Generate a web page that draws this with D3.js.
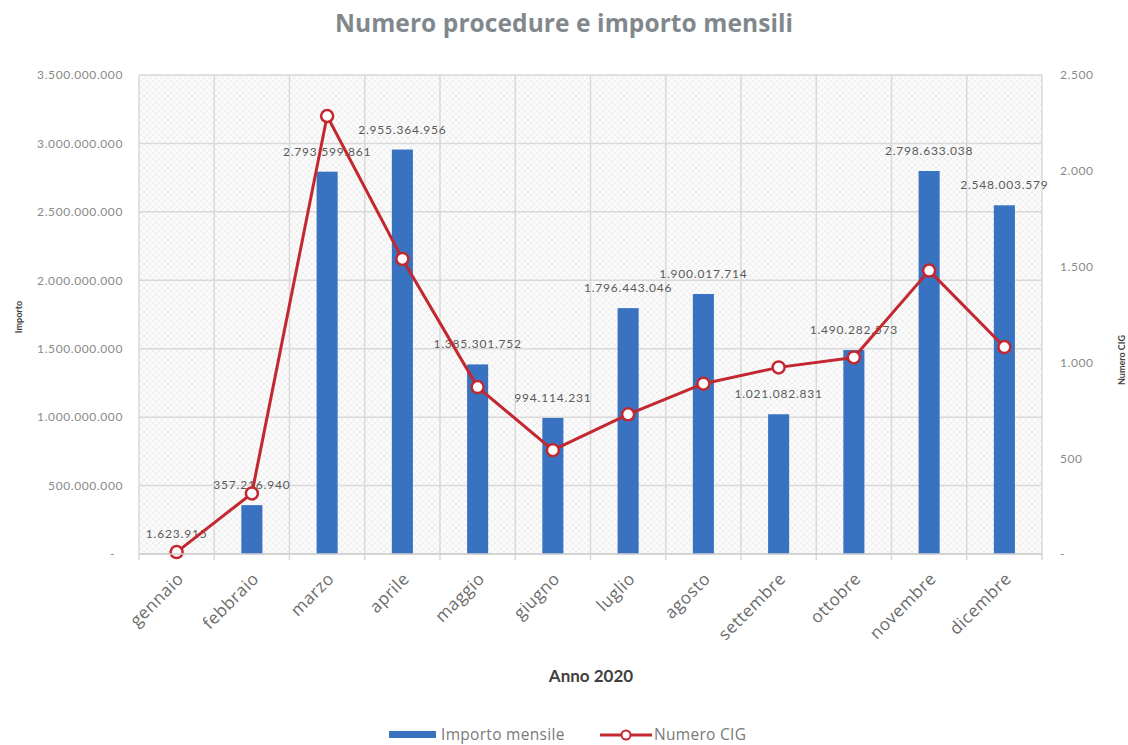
<!DOCTYPE html>
<html>
<head>
<meta charset="utf-8">
<script src="https://cdn.jsdelivr.net/npm/d3@7"></script>
<style>
  body { margin: 0; background: #ffffff; }
  svg text { font-family: Lato, "Open Sans", sans-serif; }
</style>
</head>
<body>
<svg id="chart" width="1128" height="745"></svg>
<script>
// Monthly categories (2020)
const months = ["gennaio", "febbraio", "marzo", "aprile", "maggio", "giugno",
                "luglio", "agosto", "settembre", "ottobre", "novembre", "dicembre"];

// Monthly amount awarded (euro) – bars, left axis
const importoMensile = [1623915, 357216940, 2793599861, 2955364956, 1385301752, 994114231,
                        1796443046, 1900017714, 1021082831, 1490282573, 2798633038, 2548003579];

// Number of CIG codes per month – line, right axis
const numeroCig = [10, 316, 2286, 1540, 871, 542, 729, 889, 974, 1026, 1479, 1080];

// Axis ticks
const importoTicks = [0, 500000000, 1000000000, 1500000000, 2000000000, 2500000000, 3000000000, 3500000000];
const cigTicks = [0, 500, 1000, 1500, 2000, 2500];

const it = d3.formatLocale({ decimal: ",", thousands: ".", grouping: [3], currency: ["€", ""] });
const fmt = it.format(",.0f");
const axisFmt = d => d === 0 ? "-" : fmt(d);

const svg = d3.select("#chart");
const plot = { left: 139, right: 1042, top: 75, bottom: 554 };

const x = d3.scaleBand().domain(months)
  .range([plot.left, plot.right]).paddingInner(0.72).paddingOuter(0.36);
const step = x.step();
const cx = m => x(m) + x.bandwidth() / 2;

const yL = d3.scaleLinear().domain([0, 3500000000]).range([plot.bottom, plot.top]);
const yR = d3.scaleLinear().domain([0, 2500]).range([plot.bottom, plot.top]);

// Light cross-hatch texture in the plot area
const defs = svg.append("defs");
const pat = defs.append("pattern").attr("id", "hatch")
  .attr("width", 6).attr("height", 6).attr("patternUnits", "userSpaceOnUse");
pat.append("rect").attr("width", 6).attr("height", 6).attr("fill", "#fbfbfb");
pat.append("path").attr("d", "M0,6 L6,0 M0,0 L6,6")
  .attr("stroke", "#ececec").attr("stroke-width", 0.8);

svg.append("rect")
  .attr("x", plot.left).attr("y", plot.top)
  .attr("width", plot.right - plot.left).attr("height", plot.bottom - plot.top)
  .attr("fill", "url(#hatch)");

// Title
svg.append("text")
  .attr("x", 564).attr("y", 32)
  .attr("text-anchor", "middle")
  .attr("font-size", 24.5).attr("font-weight", "bold")
  .attr("fill", "#80888d")
  .attr("textLength", 458).attr("lengthAdjust", "spacing")
  .style("font-family", "'Open Sans', Roboto, sans-serif")
  .text("Numero procedure e importo mensili");

// Gridlines
const grid = svg.append("g").attr("stroke", "#d9d9d9").attr("stroke-width", 1.5);
grid.selectAll("line.h").data(importoTicks).join("line")
  .attr("x1", plot.left).attr("x2", plot.right)
  .attr("y1", d => yL(d)).attr("y2", d => yL(d));
const edges = months.map(m => cx(m) - step / 2).concat([cx(months[months.length - 1]) + step / 2]);
grid.selectAll("line.v").data(edges).join("line")
  .attr("x1", d => d).attr("x2", d => d)
  .attr("y1", plot.top).attr("y2", plot.bottom + 6);

// Bars
svg.append("g").selectAll("rect").data(months).join("rect")
  .attr("x", m => x(m))
  .attr("width", x.bandwidth())
  .attr("y", (m, i) => yL(importoMensile[i]))
  .attr("height", (m, i) => plot.bottom - yL(importoMensile[i]))
  .attr("fill", "#3a72c2");

// Bar value labels
svg.append("g").selectAll("text").data(months).join("text")
  .attr("x", m => cx(m))
  .attr("y", (m, i) => yL(importoMensile[i]) - 16)
  .attr("text-anchor", "middle")
  .attr("font-size", 12)
  .attr("letter-spacing", 0.8)
  .attr("fill", "#5a5a5a")
  .text((m, i) => fmt(importoMensile[i]));

// Line for number of CIG
const line = d3.line().x((d, i) => cx(months[i])).y(d => yR(d));
svg.append("path").datum(numeroCig)
  .attr("d", line).attr("fill", "none")
  .attr("stroke", "#c3272f").attr("stroke-width", 3).attr("stroke-linejoin", "round");
svg.append("g").selectAll("circle").data(numeroCig).join("circle")
  .attr("cx", (d, i) => cx(months[i])).attr("cy", d => yR(d))
  .attr("r", 6)
  .attr("fill", "#ffffff").attr("stroke", "#c3272f").attr("stroke-width", 2.5);

// Left axis
const gL = svg.append("g").attr("transform", `translate(${plot.left - 13},0)`)
  .call(d3.axisLeft(yL).tickValues(importoTicks).tickFormat(axisFmt).tickSize(0));
gL.select(".domain").remove();
gL.selectAll("text").attr("font-size", 12).attr("letter-spacing", 0.6).attr("fill", "#8a8a8a")
  .style("font-family", "Lato, sans-serif");
gL.selectAll(".tick").filter(d => d === 0).select("text").attr("dx", -8);

// Right axis
const gR = svg.append("g").attr("transform", `translate(${plot.right + 15},0)`)
  .call(d3.axisRight(yR).tickValues(cigTicks).tickFormat(axisFmt).tickSize(0));
gR.select(".domain").remove();
gR.selectAll("text").attr("font-size", 12).attr("letter-spacing", 0.6).attr("fill", "#8a8a8a")
  .style("font-family", "Lato, sans-serif");

// Bottom axis line
svg.append("line")
  .attr("x1", plot.left).attr("x2", plot.right)
  .attr("y1", plot.bottom).attr("y2", plot.bottom)
  .attr("stroke", "#cfcfcf").attr("stroke-width", 1.5);

// Month labels, rotated
svg.append("g").selectAll("text").data(months).join("text")
  .attr("text-anchor", "end")
  .attr("transform", m => `translate(${cx(m) + 8},${plot.bottom + 26}) rotate(-45)`)
  .attr("font-size", 17)
  .attr("letter-spacing", 0.5)
  .attr("fill", "#6b6b6b")
  .style("font-family", "'Open Sans', Lato, sans-serif")
  .text(m => m);

// Axis titles
svg.append("text")
  .attr("transform", "translate(22,317) rotate(-90)")
  .attr("text-anchor", "middle").attr("font-size", 9).attr("font-weight", "bold")
  .attr("fill", "#3f3f3f").text("Importo");
svg.append("text")
  .attr("transform", "translate(1125,360) rotate(-90)")
  .attr("text-anchor", "middle").attr("font-size", 9).attr("font-weight", "bold")
  .attr("fill", "#3f3f3f").text("Numero CIG");
svg.append("text")
  .attr("x", 591).attr("y", 682)
  .attr("text-anchor", "middle").attr("font-size", 17).attr("font-weight", "bold")
  .attr("fill", "#404040").text("Anno 2020");

// Legend
const lg = svg.append("g");
lg.append("rect").attr("x", 389).attr("y", 731).attr("width", 47).attr("height", 7).attr("fill", "#3a72c2");
lg.append("text").attr("x", 441).attr("y", 740).attr("font-size", 15.5).attr("letter-spacing", 0.3)
  .attr("fill", "#7a7a7a").style("font-family", "'Open Sans', Lato, sans-serif").text("Importo mensile");
lg.append("line").attr("x1", 600).attr("x2", 652).attr("y1", 735).attr("y2", 735)
  .attr("stroke", "#c3272f").attr("stroke-width", 3);
lg.append("circle").attr("cx", 626).attr("cy", 735).attr("r", 4.5)
  .attr("fill", "#ffffff").attr("stroke", "#c3272f").attr("stroke-width", 2);
lg.append("text").attr("x", 654).attr("y", 740).attr("font-size", 15.5).attr("letter-spacing", 0.3)
  .attr("fill", "#7a7a7a").style("font-family", "'Open Sans', Lato, sans-serif").text("Numero CIG");
</script>
</body>
</html>
